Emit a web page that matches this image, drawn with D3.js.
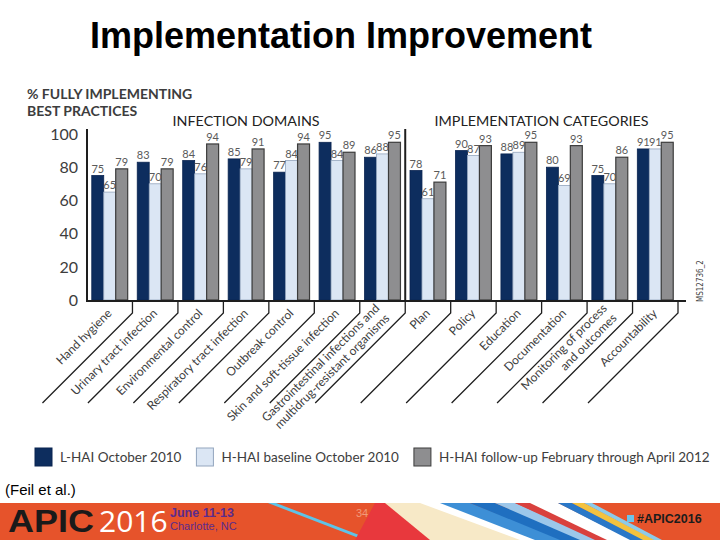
<!DOCTYPE html>
<html>
<head>
<meta charset="utf-8">
<script src="https://cdn.jsdelivr.net/npm/d3@7"></script>
<style>
    html, body { margin: 0; padding: 0; background: #ffffff; }
    svg { display: block; }
</style>
</head>
<body>
<div id="chart"></div>
<script>
// Chart values
const categories = [
    ['Hand hygiene'],
    ['Urinary tract infection'],
    ['Environmental control'],
    ['Respiratory tract infection'],
    ['Outbreak control'],
    ['Skin and soft-tissue infection'],
    ['Gastrointestinal infections and', 'multidrug-resistant organisms'],
    ['Plan'],
    ['Policy'],
    ['Education'],
    ['Documentation'],
    ['Monitoring of process', 'and outcomes'],
    ['Accountability']
];
const lHaiOct2010 = [75, 83, 84, 85, 77, 95, 86, 78, 90, 88, 80, 75, 91];
const hHaiBaselineOct2010 = [65, 70, 76, 79, 84, 84, 88, 61, 87, 89, 69, 70, 91];
const hHaiFollowUp2012 = [79, 79, 94, 91, 94, 89, 95, 71, 93, 95, 93, 86, 95];
const seriesNames = [
    'L-HAI October 2010',
    'H-HAI baseline October 2010',
    'H-HAI follow-up February through April 2012'
];
const yTicks = [0, 20, 40, 60, 80, 100];
const sectionNames = ['INFECTION DOMAINS', 'IMPLEMENTATION CATEGORIES'];
const sectionSizes = [7, 6];

const colors = {
    fills: ['#0d2d5e', '#dbe6f4', '#8e8e90'],
    strokes: ['#0a2450', '#93a5bd', '#3c3c3c'],
    text: '#3d3d3d',
    value: '#5a5a5a',
    axis: '#1e1e1e'
};

function renderSlide() {
    const svg = d3.select('#chart')
        .append('svg')
        .attr('width', 720)
        .attr('height', 540);

    svg.append('rect')
        .attr('width', 720)
        .attr('height', 540)
        .attr('fill', '#ffffff');

    // Slide title
    svg.append('text')
        .attr('x', 341)
        .attr('y', 48)
        .attr('text-anchor', 'middle')
        .style('font-family', '"Liberation Sans", Arial, sans-serif')
        .style('font-weight', 'bold')
        .style('font-size', '36px')
        .attr('fill', '#000')
        .text('Implementation Improvement');

    renderBarChart(svg);
    renderLegend(svg);

    svg.append('text')
        .attr('x', 5)
        .attr('y', 495)
        .style('font-family', '"Liberation Sans", Arial, sans-serif')
        .style('font-size', '15px')
        .attr('fill', '#000')
        .text('(Feil et al.)');

    renderFooter(svg);
}

function renderBarChart(svg) {
    const baseY = 300;
    const yScale = d3.scaleLinear()
        .domain([0, 100])
        .range([baseY, 134]);

    const xScale = d3.scaleBand()
        .domain(d3.range(categories.length))
        .range([87, 678])
        .paddingInner(0.21)
        .paddingOuter(0.105);

    const subScale = d3.scaleBand()
        .domain([0, 1, 2])
        .range([0, xScale.bandwidth()]);

    const step = xScale.step();
    const tickX = i => xScale(i) + xScale.bandwidth() / 2 + step / 2;

    const series = [lHaiOct2010, hHaiBaselineOct2010, hHaiFollowUp2012];
    const rows = [];
    categories.forEach((c, i) => {
        series.forEach((s, k) => rows.push({ cat: i, k: k, value: s[i] }));
    });

    // Y label block
    svg.append('text')
        .attr('x', 27)
        .attr('y', 99)
        .style('font-family', 'Lato, sans-serif')
        .style('font-weight', 'bold')
        .style('font-size', '14px')
        .attr('fill', colors.text)
        .text('% FULLY IMPLEMENTING');
    svg.append('text')
        .attr('x', 27)
        .attr('y', 116)
        .style('font-family', 'Lato, sans-serif')
        .style('font-weight', 'bold')
        .style('font-size', '14px')
        .attr('fill', colors.text)
        .text('BEST PRACTICES');

    // Section headers
    let start = 0;
    sectionNames.forEach((name, j) => {
        const first = start;
        const last = start + sectionSizes[j] - 1;
        const cx = (xScale(first) + xScale(last) + xScale.bandwidth()) / 2;
        svg.append('text')
            .attr('x', cx)
            .attr('y', 126)
            .attr('text-anchor', 'middle')
            .style('font-family', 'Lato, sans-serif')
            .style('font-size', '14.3px')
            .attr('fill', '#222')
            .text(name);
        start += sectionSizes[j];
    });

    // Y axis tick labels
    svg.append('g')
        .selectAll('text')
        .data(yTicks)
        .enter()
        .append('text')
        .attr('x', 78)
        .attr('y', d => yScale(d))
        .attr('dy', '0.36em')
        .attr('text-anchor', 'end')
        .style('font-family', 'Lato, sans-serif')
        .style('font-size', '16px')
        .attr('fill', colors.text)
        .text(d => d);

    // Bars
    svg.append('g')
        .selectAll('rect')
        .data(rows)
        .enter()
        .append('rect')
        .attr('x', d => xScale(d.cat) + subScale(d.k))
        .attr('y', d => yScale(d.value))
        .attr('width', subScale.bandwidth())
        .attr('height', d => baseY - yScale(d.value))
        .attr('fill', d => colors.fills[d.k])
        .attr('stroke', d => colors.strokes[d.k])
        .attr('stroke-width', d => d.k === 2 ? 1.2 : 0.8);

    // Value labels
    svg.append('g')
        .selectAll('text')
        .data(rows)
        .enter()
        .append('text')
        .attr('x', d => xScale(d.cat) + subScale(d.k) + subScale.bandwidth() / 2)
        .attr('y', d => yScale(d.value) - 3)
        .attr('text-anchor', 'middle')
        .style('font-family', 'Lato, sans-serif')
        .style('font-size', '11px')
        .attr('fill', colors.value)
        .text(d => d.value);

    // Axes
    svg.append('line')
        .attr('x1', 87).attr('x2', 87)
        .attr('y1', yScale(103)).attr('y2', baseY + 1)
        .attr('stroke', colors.axis)
        .attr('stroke-width', 2);

    svg.append('line')
        .attr('x1', 86).attr('x2', xScale.range()[1] + 8)
        .attr('y1', baseY + 1).attr('y2', baseY + 1)
        .attr('stroke', colors.axis)
        .attr('stroke-width', 2);

    // Section separator
    const sepX = tickX(sectionSizes[0] - 1);
    svg.append('line')
        .attr('x1', sepX).attr('x2', sepX)
        .attr('y1', yScale(103)).attr('y2', baseY)
        .attr('stroke', colors.axis)
        .attr('stroke-width', 2);

    // Category separators: short tick then a long slanted rule
    const diagTop = baseY + 13;
    const diagLen = 90;
    const ticks = svg.append('g');
    categories.forEach((c, i) => {
        const tx = tickX(i);
        ticks.append('path')
            .attr('d', `M${tx},${baseY} L${tx},${diagTop} L${tx - diagLen},${diagTop + diagLen}`)
            .attr('fill', 'none')
            .attr('stroke', colors.axis)
            .attr('stroke-width', 1.3);
    });

    // Category labels, rotated along the rules
    const lineH = 14;
    categories.forEach((lines, i) => {
        const tx = tickX(i);
        const label = svg.append('text')
            .attr('transform', `translate(${tx - 20}, ${diagTop + 1}) rotate(-45)`)
            .attr('text-anchor', 'end')
            .style('font-family', 'Lato, sans-serif')
            .style('font-size', '12px')
            .attr('fill', colors.text);
        lines.forEach((ln, j) => {
            label.append('tspan')
                .attr('x', 0)
                .attr('dy', j === 0 ? -(lines.length - 1) * lineH / 2 : lineH)
                .text(ln);
        });
    });

    // Figure id on the right
    svg.append('text')
        .attr('transform', 'translate(703, 302) rotate(-90)')
        .style('font-family', '"DejaVu Sans Condensed", sans-serif')
        .style('font-size', '8px')
        .attr('fill', '#444')
        .text('MS12736_2');
}

function renderLegend(svg) {
    const legend = svg.append('g')
        .attr('transform', 'translate(35, 448)');

    let x = 0;
    seriesNames.forEach((name, k) => {
        legend.append('rect')
            .attr('x', x)
            .attr('y', 0)
            .attr('width', 17)
            .attr('height', 18)
            .attr('fill', colors.fills[k])
            .attr('stroke', colors.strokes[k])
            .attr('stroke-width', 1);
        const t = legend.append('text')
            .attr('x', x + 25)
            .attr('y', 9)
            .attr('dy', '0.36em')
            .style('font-family', 'Lato, sans-serif')
            .style('font-size', '13.5px')
            .attr('fill', colors.text)
            .text(name);
        x += 25 + t.node().getComputedTextLength() + 15;
    });
}

function renderFooter(svg) {
    const footer = svg.append('g');

    footer.append('rect')
        .attr('x', 0)
        .attr('y', 503)
        .attr('width', 720)
        .attr('height', 37)
        .attr('fill', '#e6532b');

    // Ribbon stripes: [top-left, top-right, bottom-right, bottom-left] x, top y 503, bottom y 540
    const stripes = [
        [268, 276, 372, 364, '#5ec3e8'],
        [375, 395, 440, 355, '#e8383d'],
        [385, 440, 530, 430, '#f7e9c7'],
        [420, 445, 545, 520, '#ffffff'],
        [440, 470, 565, 535, '#3d8fd6'],
        [470, 495, 585, 560, '#1f6fc0'],
        [495, 515, 600, 580, '#9cc7ea'],
        [515, 530, 610, 595, '#d9413e'],
        [530, 558, 632, 607, '#ffffff'],
        [558, 572, 645, 630, '#2a78c8'],
        [572, 584, 655, 643, '#f3c23f'],
        [584, 592, 662, 654, '#8ccbe9']
    ];
    footer.selectAll('polygon')
        .data(stripes)
        .enter()
        .append('polygon')
        .attr('points', d => `${d[0]},503 ${d[1]},503 ${d[2]},540 ${d[3]},540`)
        .attr('fill', d => d[4]);

    footer.append('text')
        .attr('x', 8)
        .attr('y', 532)
        .attr('textLength', 86)
        .attr('lengthAdjust', 'spacingAndGlyphs')
        .style('font-family', '"Liberation Sans", Arial, sans-serif')
        .style('font-weight', 'bold')
        .style('font-size', '32px')
        .attr('fill', '#1a1a1a')
        .text('APIC');
    footer.append('text')
        .attr('x', 99)
        .attr('y', 532)
        .style('font-family', '"Open Sans", sans-serif')
        .style('font-size', '30px')
        .attr('fill', '#ffffff')
        .text('2016');
    footer.append('text')
        .attr('x', 170)
        .attr('y', 517)
        .style('font-family', '"Liberation Sans", Arial, sans-serif')
        .style('font-weight', 'bold')
        .style('font-size', '12.5px')
        .attr('fill', '#5b2b8c')
        .text('June 11-13');
    footer.append('text')
        .attr('x', 170)
        .attr('y', 530)
        .style('font-family', '"Liberation Sans Narrow", "Liberation Sans", sans-serif')
        .style('font-size', '11px')
        .attr('fill', '#5b2b8c')
        .text('Charlotte, NC');
    footer.append('text')
        .attr('x', 356)
        .attr('y', 517)
        .style('font-family', '"Liberation Sans", Arial, sans-serif')
        .style('font-size', '11px')
        .attr('fill', '#f19a7a')
        .text('34');
    footer.append('rect')
        .attr('x', 627)
        .attr('y', 515)
        .attr('width', 7)
        .attr('height', 7)
        .attr('fill', '#6cc3ea');
    footer.append('text')
        .attr('x', 637)
        .attr('y', 523)
        .style('font-family', '"Liberation Sans", Arial, sans-serif')
        .style('font-weight', 'bold')
        .style('font-size', '12.5px')
        .attr('fill', '#1c1c1c')
        .text('#APIC2016');
}

renderSlide();
</script>
</body>
</html>
